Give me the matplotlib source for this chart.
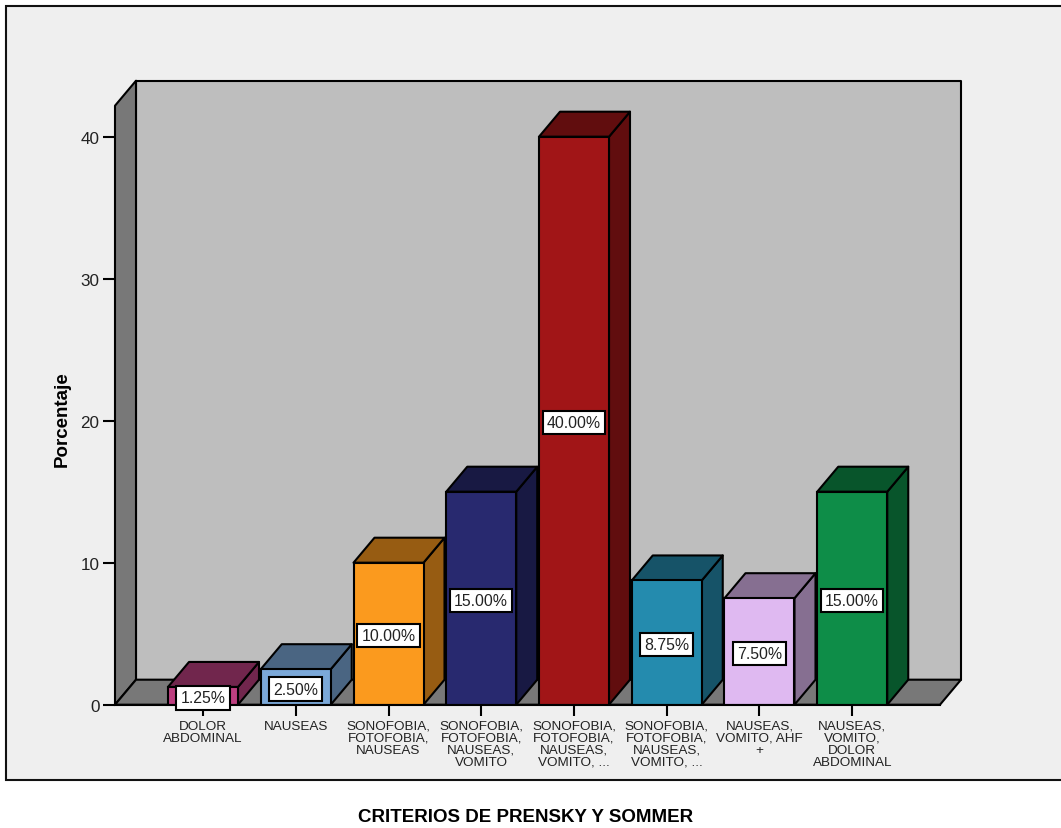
import matplotlib
matplotlib.use('Agg')
import matplotlib.pyplot as plt
from matplotlib.patches import Polygon, Rectangle
from matplotlib.colors import to_rgb

categories = ['DOLOR\nABDOMINAL', 'NAUSEAS', 'SONOFOBIA,\nFOTOFOBIA,\nNAUSEAS',
              'SONOFOBIA,\nFOTOFOBIA,\nNAUSEAS,\nVOMITO',
              'SONOFOBIA,\nFOTOFOBIA,\nNAUSEAS,\nVOMITO, ...',
              'SONOFOBIA,\nFOTOFOBIA,\nNAUSEAS,\nVOMITO, ...',
              'NAUSEAS,\nVOMITO, AHF\n+',
              'NAUSEAS,\nVOMITO,\nDOLOR\nABDOMINAL']
percentages = [1.25, 2.50, 10.00, 15.00, 40.00, 8.75, 7.50, 15.00]
yticks = [0, 10, 20, 30, 40]
colors = ['#bd3f80', '#7ba8d8', '#fb9a1e', '#28296f', '#a11517', '#248bae', '#dfb9f1', '#0e8d48']

W, H = 1061, 829
LINE = 1.5
BAR_W = 70 / 92.75
# depth of the fake 3D box, in data units
DX = 21 / 92.75
DY = 25 / 14.2

plt.rcParams['font.family'] = ['Liberation Sans', 'DejaVu Sans']

fig = plt.figure(figsize=(W / 100, H / 100), dpi=100, facecolor='white')
fig.patches.append(Rectangle((6 / W, 48.3 / H), 1.01, 774 / H, transform=fig.transFigure,
                             facecolor='#efefef', edgecolor='#111111', linewidth=LINE, zorder=-1))

ax = fig.add_axes([115 / W, (H - 705.7) / H, 825 / W, 599 / H])
ax.patch.set_visible(False)
x0, x1 = -88 / 92.75, 737 / 92.75
ymax = 599 / 14.2
ax.set_xlim(x0, x1)
ax.set_ylim(0, ymax)


def face(points, color, z):
    ax.add_patch(Polygon(points, closed=True, facecolor=color, edgecolor='black',
                         linewidth=LINE, joinstyle='round', clip_on=False, zorder=z))


def darker(c, f=0.6):
    return tuple(v * f for v in to_rgb(c))


# walls and floor
face([(x0 + DX, DY), (x1 + DX, DY), (x1 + DX, ymax + DY), (x0 + DX, ymax + DY)], '#bebebe', 1)
face([(x0, 0), (x0 + DX, DY), (x0 + DX, ymax + DY), (x0, ymax)], '#787878', 1)
face([(x0, 0), (x1, 0), (x1 + DX, DY), (x0 + DX, DY)], '#787878', 1)

for i, (v, c) in enumerate(zip(percentages, colors)):
    left, right = i - BAR_W / 2, i + BAR_W / 2
    face([(right, 0), (right + DX, DY), (right + DX, v + DY), (right, v)], darker(c), 2)
    face([(left, v), (right, v), (right + DX, v + DY), (left + DX, v + DY)], darker(c), 2)
    ax.bar(i, v, width=BAR_W, color=c, edgecolor='black', linewidth=LINE, zorder=3)
    ax.annotate(f'{v:.2f}%', (i, v / 2), xytext=(0, -1.5), textcoords='offset points',
                ha='center', va='center', fontsize=11.4, color='#222222',
                zorder=5, annotation_clip=False,
                bbox=dict(boxstyle='square,pad=0.26', facecolor='white', edgecolor='black', linewidth=LINE))

for side in ['top', 'right', 'left']:
    ax.spines[side].set_visible(False)
ax.spines['bottom'].set_linewidth(LINE)
ax.spines['bottom'].set_zorder(4)

ax.set_yticks(yticks)
ax.set_xticks(range(len(categories)))
ax.set_xticklabels(categories, fontsize=9.7, color='#222222', linespacing=0.99)
ax.tick_params(axis='y', length=8.6, width=LINE, labelsize=12.3, labelcolor='#222222', pad=2.5)
ax.tick_params(axis='x', length=8, width=LINE, pad=3)

fig.text(62 / W, 1 - 419 / H, 'Porcentaje', rotation=90, ha='center', va='center',
         fontsize=13.5, fontweight='bold')
fig.text(526 / W, 1 - 817.5 / H, 'CRITERIOS DE PRENSKY Y SOMMER', ha='center', va='center',
         fontsize=13.5, fontweight='bold')

fig.savefig('out.png', dpi=100, facecolor=fig.get_facecolor())
